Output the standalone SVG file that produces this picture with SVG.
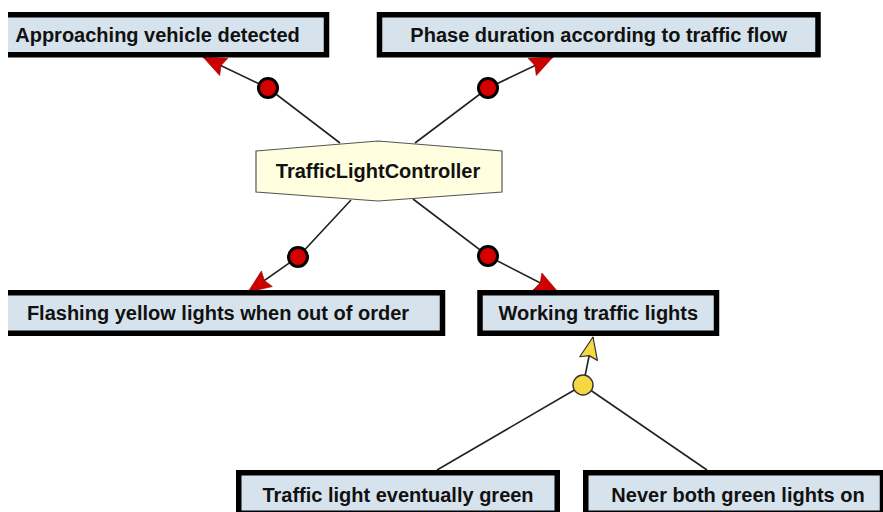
<svg xmlns="http://www.w3.org/2000/svg" width="883" height="512" viewBox="0 0 883 512">
  <style>
    .goal rect { fill: #d6e3ed; stroke: #000; stroke-width: 5.5; }
    .label { font-family: "Liberation Sans", Arial, sans-serif; font-weight: bold; font-size: 20px; fill: #111; text-anchor: middle; }
    .link { stroke: #222; stroke-width: 1.6; fill: none; }
    .resp { fill: #d40000; stroke: #000; stroke-width: 3; }
    .refine { fill: #f5d942; stroke: #333; stroke-width: 1.4; }
  </style>
  <defs>
    <clipPath id="page">
      <rect x="8" y="0" width="875" height="512"/>
    </clipPath>
    <marker id="redHead" viewBox="-26 -11 28 22" refX="0" refY="0" markerWidth="28" markerHeight="22" markerUnits="userSpaceOnUse" orient="auto">
      <path d="M0,0 L-23,-9.5 L-20,0 L-23,9.5 Z" fill="#cc0000" stroke="#a00000" stroke-width="0.6"/>
    </marker>
    <marker id="yellowHead" viewBox="-26 -11 28 22" refX="0" refY="0" markerWidth="28" markerHeight="22" markerUnits="userSpaceOnUse" orient="auto">
      <path d="M0,0 L-22,-9 L-19,0 L-22,9 Z" fill="#f5d942" stroke="#333" stroke-width="1.2" stroke-linejoin="round"/>
    </marker>
  </defs>

  <!-- links between the agent, the goals and the refinement -->
  <g id="connectors">
    <polyline class="link" points="340,143 268,88 203,57" marker-end="url(#redHead)"/>
    <polyline class="link" points="415,143 488,88 553,57" marker-end="url(#redHead)"/>
    <polyline class="link" points="351,200 298,257 248,292" marker-end="url(#redHead)"/>
    <polyline class="link" points="413,199 488,256 558,292" marker-end="url(#redHead)"/>
    <line class="link" x1="583" y1="385" x2="437" y2="470"/>
    <line class="link" x1="583" y1="385" x2="707" y2="470"/>
    <line class="link" x1="585" y1="376" x2="593" y2="337" marker-end="url(#yellowHead)"/>
    <circle class="resp" cx="268" cy="88" r="9.5"/>
    <circle class="resp" cx="488" cy="88" r="9.5"/>
    <circle class="resp" cx="298" cy="257" r="9.5"/>
    <circle class="resp" cx="488" cy="256" r="9.5"/>
    <circle id="refinement" class="refine" cx="583" cy="385" r="10"/>
  </g>

  <g id="agent">
    <polygon points="256,151 378,141 502,151 502,192 378,201 256,192" fill="#ffffe0" stroke="#555" stroke-width="1.2"/>
    <text class="label" x="378" y="178">TrafficLightController</text>
  </g>

  <g id="goal-approaching" class="goal" clip-path="url(#page)">
    <rect x="-11.5" y="14.75" width="338" height="40"/>
    <text class="label" x="157.5" y="41.5">Approaching vehicle detected</text>
  </g>

  <g id="goal-phase" class="goal">
    <rect x="379.5" y="14.75" width="438.5" height="40"/>
    <text class="label" x="598.7" y="41.5">Phase duration according to traffic flow</text>
  </g>

  <g id="goal-flashing" class="goal" clip-path="url(#page)">
    <rect x="-6.5" y="292.75" width="449" height="40.5"/>
    <text class="label" x="218" y="319.5">Flashing yellow lights when out of order</text>
  </g>

  <g id="goal-working" class="goal">
    <rect x="480" y="292.75" width="236.5" height="40.5"/>
    <text class="label" x="598.3" y="320">Working traffic lights</text>
  </g>

  <g id="goal-eventually-green" class="goal">
    <rect x="238.75" y="472.75" width="318.5" height="40.5"/>
    <text class="label" x="398" y="501.5">Traffic light eventually green</text>
  </g>

  <g id="goal-never-both" class="goal">
    <rect x="585.75" y="472.75" width="296.75" height="40.5"/>
    <text class="label" x="738" y="501.5">Never both green lights on</text>
  </g>
</svg>
